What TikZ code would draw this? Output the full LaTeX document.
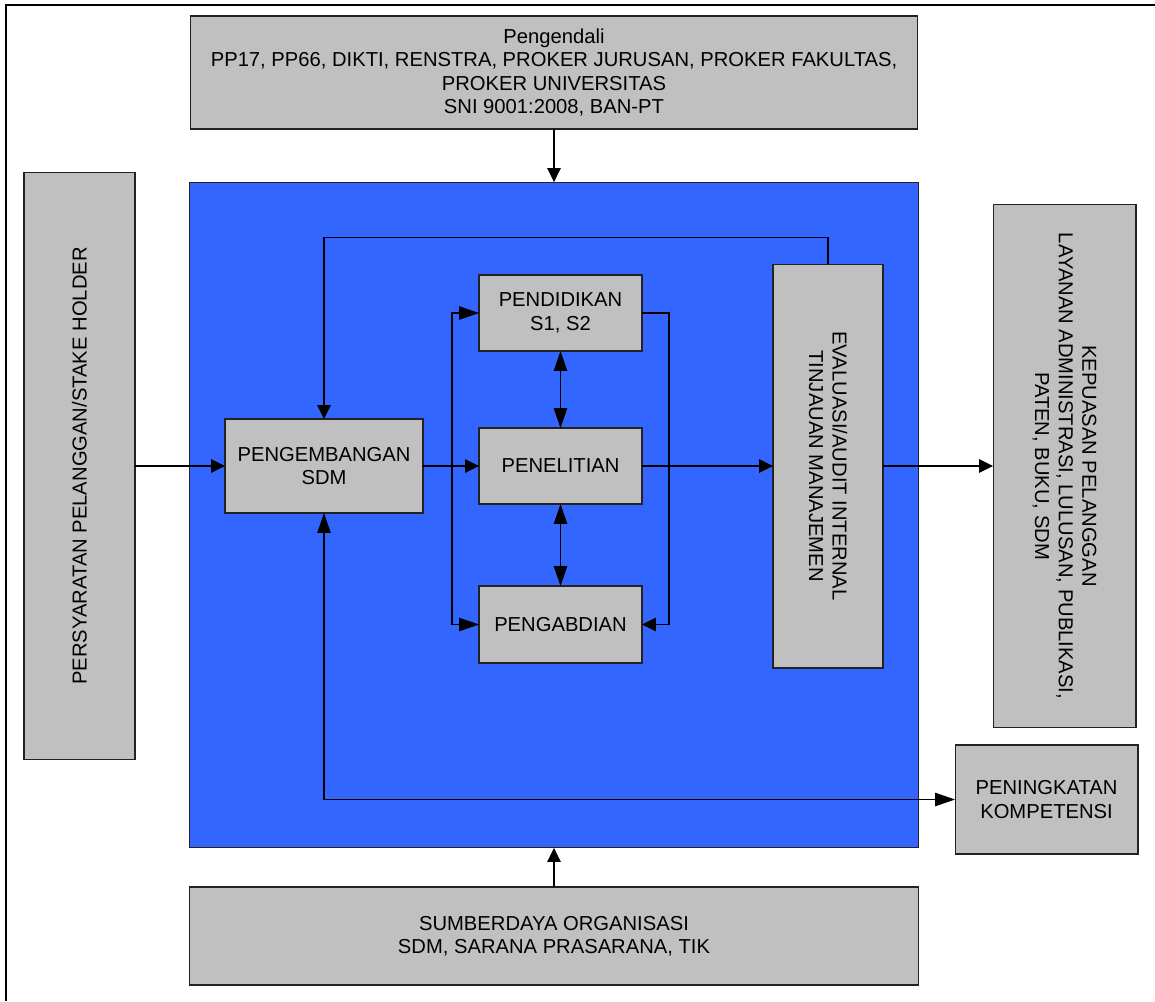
\documentclass[tikz,border=0pt]{standalone}
\usepackage{fontspec}
\setmainfont{Liberation Sans}
\usetikzlibrary{arrows.meta}
\definecolor{abu}{HTML}{C0C0C0}
\definecolor{biru}{HTML}{3366FF}
\definecolor{garis}{HTML}{222222}

\begin{document}
\begin{tikzpicture}[x=0.02cm,y=-0.02cm,
	kotak/.style={draw=garis,fill=abu,line width=0.6pt,inner sep=0,outer sep=0,align=center,font=\fontsize{11.5}{13.4}\selectfont},
	panah/.style={line width=0.6pt,-{Triangle[length=0.28cm,width=0.27cm]}},
	panahbesar/.style={line width=0.6pt,-{Triangle[length=0.4cm,width=0.27cm]}},
	panahdua/.style={line width=0.6pt,{Triangle[length=0.4cm,width=0.27cm]}-{Triangle[length=0.4cm,width=0.27cm]}}]
	\useasboundingbox (0,0) rectangle (1155,1001);
	\draw[line width=0.6pt] (6,1001) -- (6,5) -- (1155,5);
	% kotak luar
	\node[kotak,minimum width=14.56cm,minimum height=2.26cm] (pengendali) at (554,72.5) {Pengendali\\PP17, PP66, DIKTI, RENSTRA, PROKER JURUSAN, PROKER FAKULTAS,\\PROKER UNIVERSITAS\\SNI 9001:2008, BAN-PT};
	\node[kotak,fill=biru,minimum width=14.6cm,minimum height=13.32cm] (proses) at (554,515) {};
	\node[kotak,minimum width=14.6cm,minimum height=1.96cm] (sumberdaya) at (554,936) {SUMBERDAYA ORGANISASI\\SDM, SARANA PRASARANA, TIK};
	\node[kotak,rotate=90,minimum width=11.76cm,minimum height=2.22cm] (persyaratan) at (79.5,466) {PERSYARATAN PELANGGAN/STAKE HOLDER};
	\node[kotak,rotate=-90,minimum width=10.46cm,minimum height=2.86cm] (kepuasan) at (1064.5,466) {KEPUASAN PELANGGAN\\LAYANAN ADMINISTRASI, LULUSAN, PUBLIKASI,\\PATEN, BUKU, SDM};
	\node[kotak,minimum width=3.66cm,minimum height=2.18cm] (peningkatan) at (1046.5,799.5) {PENINGKATAN\\KOMPETENSI};
	% kotak dalam
	\node[kotak,minimum width=3.96cm,minimum height=1.88cm] (pengembangan) at (324,466) {PENGEMBANGAN\\SDM};
	\node[kotak,minimum width=3.26cm,minimum height=1.52cm] (pendidikan) at (560.5,313) {PENDIDIKAN\\S1, S2};
	\node[kotak,minimum width=3.26cm,minimum height=1.52cm] (penelitian) at (560.5,466) {PENELITIAN};
	\node[kotak,minimum width=3.26cm,minimum height=1.54cm] (pengabdian) at (560.5,624.5) {PENGABDIAN};
	\node[kotak,rotate=-90,minimum width=8.08cm,minimum height=2.2cm] (evaluasi) at (828,466) {EVALUASI/AUDIT INTERNAL\\TINJAUAN MANAJEMEN};
	\coordinate (cabang) at (452,466);
	% panah
	\draw[panah] (pengendali) -- (proses);
	\draw[panah] (sumberdaya) -- (proses);
	\draw[panah] (persyaratan) -- (pengembangan);
	\draw[panah] (pengembangan) -- (penelitian);
	\draw[panahbesar] (cabang) |- (pendidikan.west);
	\draw[panahbesar] (cabang) |- (pengabdian.west);
	\draw[panah] (pendidikan.east) -- ++(27,0) |- (pengabdian.east);
	\draw[panahdua] (pendidikan) -- (penelitian);
	\draw[panahdua] (penelitian) -- (pengabdian);
	\draw[panah] (penelitian) -- (evaluasi);
	\draw[panah] (evaluasi) -- (kepuasan);
	\draw[panah] (evaluasi.west) -- ++(0,-27) -| (pengembangan.north);
	\draw[panahdua] (pengembangan.south) |- (peningkatan.west);
\end{tikzpicture}
\end{document}
